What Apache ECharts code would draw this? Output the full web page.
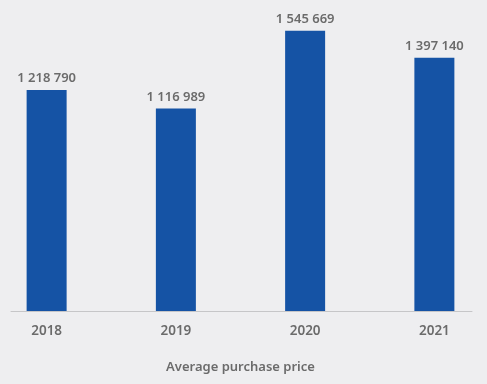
<!DOCTYPE html>
<html>
<head>
<meta charset="utf-8">
<script src="https://cdn.jsdelivr.net/npm/echarts@6/dist/echarts.min.js"></script>
<style>
html,body{margin:0;padding:0;background:#eeeef0;overflow:hidden;width:487px;height:384px;}
#chart{width:517px;height:384px;margin-left:-18px;}
</style>
</head>
<body>
<div id="chart"></div>
<script>
var categories = ['2018', '2019', '2020', '2021'];
var values = [1218790, 1116989, 1545669, 1397140];
var titleText = 'Average purchase price';

function fmt(v) {
  return String(v).replace(/\B(?=(\d{3})+(?!\d))/g, ' ');
}

var chart = echarts.init(document.getElementById('chart'));
var textColor = '#6b6b6b';
var font = 'Noto Sans';
chart.setOption({
  backgroundColor: '#eeeef0',
  animation: false,
  title: {
    text: titleText,
    left: 'center',
    top: 356,
    textStyle: {color: textColor, fontFamily: font, fontSize: 13, fontWeight: 600}
  },
  grid: [
    {left: 0, right: 0, top: 21, bottom: 73},
    {left: 29, right: 27, top: 21, bottom: 73}
  ],
  xAxis: [
    {
      type: 'category', gridIndex: 0, data: categories,
      axisLine: {show: false}, axisTick: {show: false},
      axisLabel: {color: textColor, fontFamily: font, fontSize: 13.5, fontWeight: 600, margin: 13}
    },
    {
      type: 'category', gridIndex: 1, data: categories,
      axisLine: {show: true, lineStyle: {color: '#c6c6c8', width: 1}},
      axisTick: {show: false}, axisLabel: {show: false}
    }
  ],
  yAxis: [
    {type: 'value', gridIndex: 0, min: 0, max: 1600000, show: false, splitLine: {show: false}},
    {type: 'value', gridIndex: 1, min: 0, max: 1600000, show: false, splitLine: {show: false}}
  ],
  series: [{
    type: 'bar',
    xAxisIndex: 0, yAxisIndex: 0,
    data: values,
    barWidth: 40,
    itemStyle: {color: '#1553a5'},
    label: {
      show: true, position: 'top', distance: 5,
      formatter: function (p) { return fmt(p.value); },
      color: textColor, fontFamily: font, fontSize: 13, fontWeight: 600
    }
  }]
});
</script>
</body>
</html>
